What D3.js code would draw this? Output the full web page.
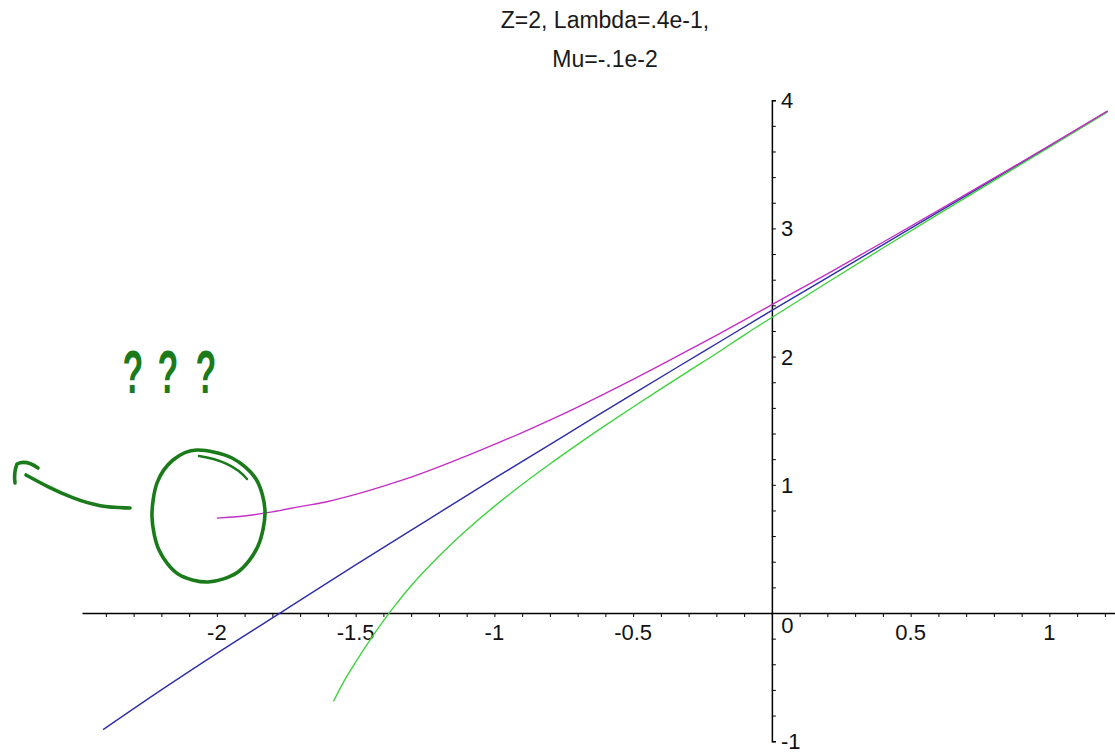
<!DOCTYPE html>
<html>
<head>
<meta charset="utf-8">
<script src="https://cdn.jsdelivr.net/npm/d3@7"></script>
<style>
  html, body { margin: 0; padding: 0; background: #fff; }
  svg { display: block; }
  text { font-family: "Liberation Sans", Arial, sans-serif; }
</style>
</head>
<body>
<svg id="chart" width="1115" height="754"></svg>
<script>
// ---- data ----
const titleLines = ["Z=2, Lambda=.4e-1,", "Mu=-.1e-2"];

const xTickValues = [-2, -1.5, -1, -0.5, 0, 0.5, 1];
const xTickLabels = ["-2", "-1.5", "-1", "-0.5", "0", "0.5", "1"];
const yTickValues = [-1, 1, 2, 3, 4];
const yTickLabels = ["-1", "1", "2", "3", "4"];

// blue curve
const blueX = [-2.41, -2.2, -2.0, -1.75, -1.5, -1.25, -1.0, -0.75, -0.5, -0.25, 0, 0.25, 0.5, 0.75, 1.0, 1.21];
const blueY = [-0.91, -0.60, -0.315, 0.03, 0.375, 0.713, 1.05, 1.38, 1.71, 2.035, 2.36, 2.68, 3.00, 3.32, 3.64, 3.913];

// magenta curve
const magentaX = [-2.0, -1.9, -1.8, -1.7, -1.6, -1.5, -1.4, -1.3, -1.2, -1.1, -1.0, -0.9, -0.8, -0.7, -0.6, -0.5, -0.4, -0.3, -0.2, -0.1, 0, 0.2, 0.4, 0.6, 0.8, 1.0, 1.21];
const magentaY = [0.74, 0.757, 0.789, 0.83, 0.87, 0.925, 0.99, 1.06, 1.14, 1.225, 1.315, 1.407, 1.504, 1.606, 1.713, 1.823, 1.935, 2.05, 2.166, 2.285, 2.405, 2.646, 2.892, 3.141, 3.392, 3.645, 3.916];

// green curve
const greenX = [-1.58, -1.55, -1.5, -1.45, -1.4, -1.35, -1.3, -1.2, -1.1, -1.0, -0.9, -0.8, -0.7, -0.6, -0.5, -0.4, -0.3, -0.2, -0.1, 0, 0.2, 0.4, 0.6, 0.8, 1.0, 1.21];
const greenY = [-0.69, -0.564, -0.384, -0.217, -0.062, 0.081, 0.212, 0.442, 0.647, 0.832, 1.002, 1.162, 1.315, 1.463, 1.607, 1.748, 1.887, 2.024, 2.168, 2.305, 2.578, 2.847, 3.111, 3.373, 3.633, 3.909];

// ---- layout ----
const svg = d3.select("#chart");
const x = d3.scaleLinear().domain([-2.486, 1.24]).range([82, 1116]);
const y = d3.scaleLinear().domain([-1, 4]).range([741.2, 100.2]);

// title
svg.append("g").selectAll("text")
  .data(titleLines)
  .join("text")
  .attr("x", 605)
  .attr("y", (d, i) => 28 + i * 39)
  .attr("text-anchor", "middle")
  .attr("font-size", 23)
  .attr("fill", "#1a1a1a")
  .text(d => d);

// x axis (ticks every 0.1, pointing down)
const xMinor = d3.range(-24, 13).map(i => i / 10);
const xAxisG = svg.append("g")
  .attr("transform", `translate(0,${y(0)})`)
  .call(d3.axisBottom(x).tickValues(xMinor).tickSize(4).tickSizeOuter(0).tickFormat(""));
xAxisG.select(".domain").attr("stroke", "#000").attr("stroke-width", 1.3);
xAxisG.selectAll(".tick line").attr("stroke", "#000").attr("stroke-width", 1);

// x tick labels
svg.append("g").selectAll("text")
  .data(xTickValues)
  .join("text")
  .attr("x", d => d === 0 ? x(0) + 15.5 : x(d))
  .attr("y", d => d === 0 ? y(0) + 20 : y(0) + 27)
  .attr("text-anchor", "middle")
  .attr("font-size", 22)
  .attr("fill", "#111")
  .text((d, i) => xTickLabels[i]);

// y axis (ticks every 0.2, pointing right)
const yMinor = d3.range(-5, 21).map(i => i / 5);
const yAxisG = svg.append("g")
  .attr("transform", `translate(${x(0)},0)`)
  .call(d3.axisRight(y).tickValues(yMinor).tickSize(4).tickSizeOuter(4).tickFormat(""));
yAxisG.select(".domain").attr("stroke", "#000").attr("stroke-width", 1.5);
yAxisG.selectAll(".tick line").attr("stroke", "#000").attr("stroke-width", 1);

// y tick labels
svg.append("g").selectAll("text")
  .data(yTickValues)
  .join("text")
  .attr("x", x(0) + 9)
  .attr("y", d => y(d) + 8)
  .attr("text-anchor", "start")
  .attr("font-size", 22)
  .attr("fill", "#111")
  .text((d, i) => yTickLabels[i]);

// curves
const line = d3.line().x(d => x(d[0])).y(d => y(d[1])).curve(d3.curveMonotoneX);
const series = [
  { xs: blueX, ys: blueY, color: "#2e2ea8" },
  { xs: greenX, ys: greenY, color: "#3fd23f" },
  { xs: magentaX, ys: magentaY, color: "#c52fc5" }
];
svg.append("g").selectAll("path")
  .data(series)
  .join("path")
  .attr("fill", "none")
  .attr("stroke", d => d.color)
  .attr("stroke-width", 1.4)
  .attr("d", d => line(d.xs.map((v, i) => [v, d.ys[i]])));

// hand-drawn marker annotations
const ink = "#1b7b1b";
const ann = svg.append("g")
  .attr("fill", "none")
  .attr("stroke", ink)
  .attr("stroke-width", 3.6)
  .attr("stroke-linecap", "round")
  .attr("stroke-linejoin", "round");

const loopPts = [[197, 450], [232, 458], [256, 479], [265, 511], [258, 546], [238, 572], [208, 582], [178, 574], [159, 550], [152, 517], [157, 483], [173, 460]];
ann.append("path")
  .attr("d", d3.line().curve(d3.curveCardinalClosed.tension(0.1))(loopPts));
ann.append("path")
  .attr("stroke-width", 2.4)
  .attr("d", "M199,456 Q232,461 247,479");

// arrow shaft and head
ann.append("path")
  .attr("d", d3.line().curve(d3.curveBasis)([[130, 508], [100, 507], [72, 498], [48, 487], [26, 475]]));
ann.append("path")
  .attr("d", "M15,483 C14,476 15,469 17,464 C23,461 31,463 38,468");

// question marks
svg.append("g").selectAll("text")
  .data([133, 168, 206])
  .join("text")
  .attr("transform", d => `translate(${d},393) scale(0.55,1)`)
  .attr("text-anchor", "middle")
  .attr("font-size", 62)
  .attr("font-weight", "bold")
  .attr("fill", ink)
  .text("?");
</script>
</body>
</html>
